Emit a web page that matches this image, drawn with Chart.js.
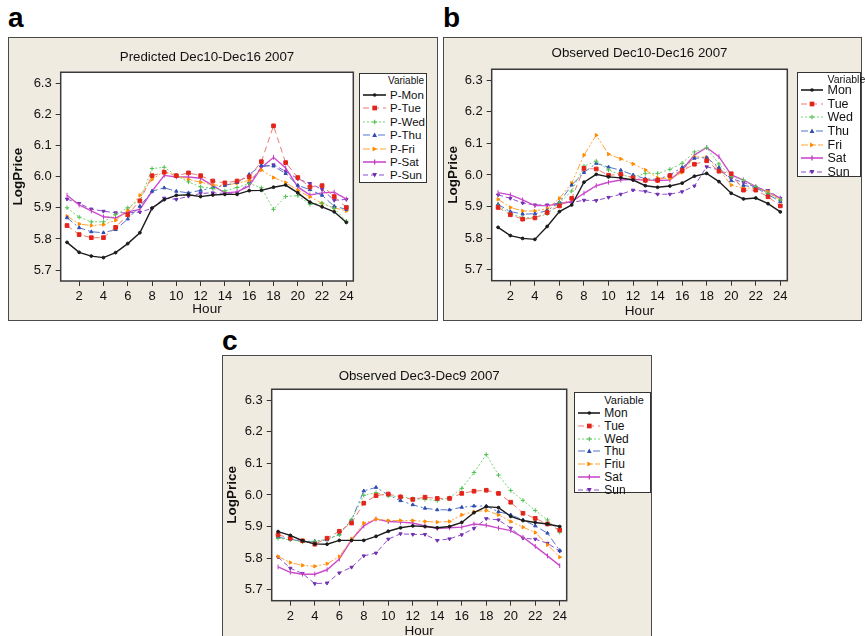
<!DOCTYPE html>
<html><head><meta charset="utf-8">
<script src="https://cdn.jsdelivr.net/npm/chart.js@4.4.1/dist/chart.umd.min.js"></script>
<style>
html,body{margin:0;padding:0;background:#fff;}
body{width:865px;height:636px;overflow:hidden;position:relative;font-family:"Liberation Sans",Arial,sans-serif;}
.panel{position:absolute;background:#efebe1;border:1.5px solid #4a4a4a;box-sizing:border-box;}
.lbl{position:absolute;font-weight:bold;font-size:28px;line-height:28px;color:#000;}
.cv{position:absolute;}
.legend{position:absolute;background:#fff;border:1px solid #333;box-sizing:border-box;}
.legend div{position:absolute;white-space:nowrap;color:#111;}
.legend svg{position:absolute;}
</style></head>
<body>
<div class="lbl" style="left:8px;top:4px;">a</div>
<div class="lbl" style="left:443px;top:4px;">b</div>
<div class="lbl" style="left:222px;top:327px;">c</div>
<div class="panel" style="left:8px;top:37px;width:430px;height:284px;"></div>
<div class="panel" style="left:443px;top:37px;width:419px;height:284px;"></div>
<div class="panel" style="left:222px;top:355px;width:430px;height:292px;"></div>
<canvas id="ca" class="cv" width="430" height="283" style="left:8px;top:37px;"></canvas>
<canvas id="cb" class="cv" width="418" height="283" style="left:443px;top:37px;"></canvas>
<canvas id="cc" class="cv" width="429" height="285" style="left:222px;top:355px;"></canvas>
<script>
// ---------- data ----------
const hours = [1,2,3,4,5,6,7,8,9,10,11,12,13,14,15,16,17,18,19,20,21,22,23,24];
const xTickValues = [2,4,6,8,10,12,14,16,18,20,22,24];
const yTickValues = [5.7,5.8,5.9,6.0,6.1,6.2,6.3];

// Panel a: Predicted Dec10-Dec16 2007
const predMon = [5.789,5.757,5.745,5.740,5.756,5.785,5.820,5.899,5.926,5.940,5.942,5.936,5.941,5.943,5.943,5.955,5.956,5.966,5.973,5.948,5.918,5.903,5.887,5.853];
const predTue = [5.843,5.814,5.804,5.804,5.837,5.878,5.922,6.003,6.014,6.003,6.012,6.003,5.986,5.980,5.986,5.999,6.048,6.163,6.045,5.997,5.967,5.971,5.936,5.901];
const predWed = [5.900,5.870,5.855,5.855,5.878,5.900,5.924,6.026,6.030,6.004,5.983,5.967,5.962,5.954,5.965,5.978,5.964,5.895,5.936,5.939,5.911,5.915,5.898,5.857];
const predThu = [5.868,5.836,5.823,5.820,5.830,5.864,5.905,5.953,5.964,5.953,5.948,5.956,5.964,5.972,5.981,6.007,6.036,6.034,6.010,5.972,5.958,5.940,5.905,5.895];
const predFri = [5.873,5.848,5.843,5.846,5.860,5.892,5.940,5.991,6.017,6.003,5.991,5.982,5.973,5.972,5.979,5.988,6.021,5.997,5.981,5.956,5.935,5.914,5.900,5.890];
const predSat = [5.940,5.909,5.890,5.871,5.867,5.887,5.895,5.953,6.004,5.999,5.999,5.995,5.971,5.948,5.951,5.970,6.029,6.062,6.028,5.967,5.941,5.948,5.950,5.928];
const predSun = [5.928,5.914,5.896,5.889,5.884,5.884,5.886,5.898,5.931,5.927,5.937,5.946,5.948,5.946,5.948,5.978,6.031,6.038,6.017,5.993,5.978,5.959,5.924,5.927];

// Panel b: Observed Dec10-Dec16 2007
const obsAMon = [5.834,5.808,5.799,5.796,5.837,5.884,5.905,5.977,6.002,5.994,5.991,5.984,5.966,5.961,5.965,5.974,5.996,6.005,5.979,5.942,5.924,5.927,5.909,5.883];
const obsATue = [5.897,5.874,5.860,5.864,5.881,5.902,5.926,6.021,6.019,5.999,6.002,5.991,5.983,5.983,5.998,6.014,6.034,6.045,6.012,6.004,5.952,5.952,5.931,5.902];
const obsAWed = [5.903,5.877,5.865,5.864,5.877,5.911,5.949,6.028,6.044,6.016,6.000,5.993,6.005,6.005,6.018,6.037,6.073,6.086,6.035,5.995,5.984,5.963,5.942,5.921];
const obsAThu = [5.907,5.884,5.876,5.877,5.887,5.913,5.968,6.008,6.037,6.025,6.015,6.000,5.988,5.986,6.000,6.024,6.053,6.055,6.024,5.982,5.967,5.960,5.938,5.916];
const obsAFri = [5.923,5.897,5.886,5.886,5.893,5.926,5.974,6.063,6.126,6.066,6.051,6.035,6.016,5.991,5.989,6.008,6.058,6.056,6.018,5.968,5.958,5.958,5.947,5.921];
const obsASat = [5.944,5.937,5.921,5.903,5.903,5.908,5.916,5.942,5.966,5.977,5.984,5.986,5.984,5.982,5.984,6.016,6.063,6.087,6.058,6.000,5.984,5.963,5.945,5.927];
const obsASun = [5.937,5.926,5.911,5.905,5.905,5.911,5.913,5.920,5.919,5.929,5.939,5.952,5.948,5.939,5.939,5.947,5.965,6.026,6.016,5.989,5.976,5.961,5.951,5.926];

// Panel c: Observed Dec3-Dec9 2007
const obsBMon = [5.884,5.872,5.855,5.845,5.844,5.856,5.856,5.856,5.869,5.885,5.896,5.902,5.900,5.896,5.900,5.913,5.944,5.963,5.960,5.932,5.919,5.913,5.908,5.900];
const obsBTue = [5.874,5.863,5.855,5.844,5.863,5.885,5.911,5.974,5.998,6.003,5.994,5.986,5.993,5.989,5.989,6.005,6.012,6.015,6.005,5.977,5.942,5.926,5.908,5.889];
const obsBWed = [5.863,5.858,5.851,5.853,5.860,5.874,5.921,5.999,6.007,5.997,5.995,5.988,5.986,5.982,5.991,6.021,6.071,6.128,6.063,6.014,5.983,5.951,5.921,5.882];
const obsBThu = [5.866,5.860,5.853,5.853,5.858,5.876,5.921,6.013,6.024,6.000,5.982,5.969,5.958,5.953,5.953,5.961,5.965,5.965,5.947,5.937,5.921,5.902,5.879,5.824];
const obsBFri = [5.805,5.786,5.777,5.774,5.782,5.805,5.860,5.911,5.923,5.919,5.919,5.919,5.916,5.914,5.916,5.937,5.947,5.951,5.937,5.916,5.898,5.881,5.842,5.803];
const obsBSat = [5.772,5.755,5.749,5.749,5.763,5.797,5.858,5.902,5.924,5.916,5.914,5.911,5.902,5.894,5.896,5.898,5.908,5.904,5.895,5.887,5.866,5.837,5.807,5.776];
const obsBSun = [5.803,5.768,5.751,5.719,5.721,5.753,5.771,5.807,5.816,5.860,5.877,5.875,5.875,5.856,5.861,5.874,5.894,5.925,5.921,5.895,5.863,5.860,5.847,5.822];

const namesA = ['P-Mon','P-Tue','P-Wed','P-Thu','P-Fri','P-Sat','P-Sun'];
const namesB = ['Mon','Tue','Wed','Thu','Fri','Sat','Sun'];
const namesC = ['Mon','Tue','Wed','Thu','Friu','Sat','Sun'];
const titleA = 'Predicted Dec10-Dec16 2007';
const titleB = 'Observed Dec10-Dec16 2007';
const titleC = 'Observed Dec3-Dec9 2007';

// ---------- styles ----------
const FONT = '"Liberation Sans", Arial, sans-serif';
const styles = [
  {line:'#1c1c1c', point:'#1c1c1c', dash:[],              width:1.4, shape:'circle',   r:1.4, rot:0},
  {line:'#f07a72', point:'#e3241b', dash:[6,4],           width:1.0, shape:'rect',     r:2.6, rot:0},
  {line:'#74d674', point:'#4fbf4f', dash:[2,2],           width:1.0, shape:'cross',    r:2.2, rot:0},
  {line:'#5576cf', point:'#2f4db0', dash:[7,3,2,3],       width:1.0, shape:'triangle', r:1.9, rot:0},
  {line:'#ffa53a', point:'#ff8a00', dash:[7,2,2,2,2,2],   width:1.0, shape:'triangle', r:1.9, rot:90},
  {line:'#cc4ccc', point:'#c03ec0', dash:[],              width:1.4, shape:'line',     r:2.4, rot:90},
  {line:'#8c4fcf', point:'#7030b0', dash:[5,3],           width:1.0, shape:'triangle', r:1.9, rot:180}
];

const framePlugin = {
  id:'frame',
  beforeDraw(chart){
    const {ctx, chartArea:a} = chart;
    ctx.save(); ctx.fillStyle='#ffffff';
    ctx.fillRect(a.left, a.top, a.right-a.left, a.bottom-a.top);
    ctx.restore();
  },
  afterDraw(chart){
    const {ctx, chartArea:a} = chart;
    ctx.save(); ctx.strokeStyle='#3a3a3a'; ctx.lineWidth=1.5;
    ctx.strokeRect(a.left, a.top, a.right-a.left, a.bottom-a.top);
    ctx.restore();
  }
};

function makeChart(id, title, seriesList, names, g){
  const datasets = seriesList.map((vals,i)=>({
    label: names[i],
    data: hours.map((h,j)=>({x:h, y:vals[j]})),
    borderColor: styles[i].line,
    borderWidth: styles[i].width,
    borderDash: styles[i].dash,
    pointStyle: styles[i].shape,
    pointRadius: styles[i].r,
    pointRotation: styles[i].rot,
    pointBackgroundColor: styles[i].point,
    pointBorderColor: styles[i].point,
    pointBorderWidth: 1,
    tension: 0,
    fill: false
  }));
  new Chart(document.getElementById(id), {
    type:'line',
    data:{datasets},
    options:{
      responsive:false, animation:false, devicePixelRatio:1,
      layout:{padding:{left:0, top:0, right:g.right, bottom:0}},
      plugins:{
        legend:{display:false}, tooltip:{enabled:false},
        title:{display:true, text:title, fullSize:false, color:'#111',
               font:{family:FONT, size:13.3, weight:'normal', lineHeight:1.2},
               padding:{top:g.tp, bottom:g.tb}}
      },
      scales:{
        x:{
          type:'linear', min:0.48, max:24.57,
          afterBuildTicks: s => { s.ticks = xTickValues.map(v=>({value:v})); },
          afterFit: s => { s.height = g.xh; },
          ticks:{color:'#111', font:{family:FONT, size:13}, padding:3, maxRotation:0, autoSkip:false,
                 callback: v => String(v)},
          grid:{drawOnChartArea:false, drawTicks:true, tickLength:5, color:'#333'},
          border:{display:false},
          title:{display:true, text:'Hour', color:'#111', font:{family:FONT, size:13.5}, padding:{top:0, bottom:g.hb}}
        },
        y:{
          type:'linear', min:5.665, max:6.335,
          afterBuildTicks: s => { s.ticks = yTickValues.map(v=>({value:v})); },
          afterFit: s => { s.width = g.yw; },
          ticks:{color:'#111', font:{family:FONT, size:13}, padding:4, callback: v => Number(v).toFixed(1)},
          grid:{drawOnChartArea:false, drawTicks:true, tickLength:5, color:'#333'},
          border:{display:false},
          title:{display:true, text:'LogPrice', color:'#111', font:{family:FONT, size:13.5, weight:'bold'}, padding:{top:g.lp, bottom:0}}
        }
      }
    },
    plugins:[framePlugin]
  });
}

function markerSvg(s, cx, cy){
  const c = s.point, r = s.r;
  if (s.shape==='circle') return `<circle cx="${cx}" cy="${cy}" r="${r+0.4}" fill="${c}"/>`;
  if (s.shape==='rect') { const h = r*0.707+0.5; return `<rect x="${cx-h}" y="${cy-h}" width="${2*h}" height="${2*h}" fill="${c}"/>`; }
  if (s.shape==='cross') return `<path d="M${cx-r} ${cy}H${cx+r}M${cx} ${cy-r}V${cy+r}" stroke="${c}" stroke-width="1.1"/>`;
  if (s.shape==='line') return `<path d="M${cx} ${cy-r}V${cy+r}" stroke="${c}" stroke-width="1.3"/>`;
  if (s.shape==='triangle'){
    const q = r + 0.5;
    let pts;
    if (s.rot===0) pts=[[cx,cy-q],[cx+q,cy+q*0.8],[cx-q,cy+q*0.8]];
    else if (s.rot===90) pts=[[cx+q,cy],[cx-q*0.8,cy-q],[cx-q*0.8,cy+q]];
    else pts=[[cx,cy+q],[cx+q,cy-q*0.8],[cx-q,cy-q*0.8]];
    return `<polygon points="${pts.map(p=>p.join(',')).join(' ')}" fill="${c}"/>`;
  }
  return '';
}

function makeLegend(names, L){
  const box = document.createElement('div');
  box.className='legend';
  Object.assign(box.style,{left:L.left+'px', top:L.top+'px', width:L.w+'px', height:L.h+'px'});
  const hdr = document.createElement('div');
  hdr.textContent='Variable';
  Object.assign(hdr.style,{fontSize:L.vfs+'px', lineHeight:'12px', top:(L.vy-6)+'px'});
  if (L.vright!==undefined) hdr.style.right=L.vright+'px'; else hdr.style.left=L.tx+'px';
  box.appendChild(hdr);
  names.forEach((n,i)=>{
    const s = styles[i];
    const cy = L.y0 + i*L.dy;
    const sw = L.sx1 - L.sx0;
    const svg = document.createElementNS('http://www.w3.org/2000/svg','svg');
    svg.setAttribute('width', sw); svg.setAttribute('height', 10);
    svg.style.left = L.sx0+'px'; svg.style.top = (cy-5)+'px';
    svg.innerHTML = `<line x1="0" y1="5" x2="${sw}" y2="5" stroke="${s.line}" stroke-width="${s.width+0.2}" ${s.dash.length?`stroke-dasharray="${s.dash.join(',')}"`:''}/>` + markerSvg(s, sw/2, 5);
    box.appendChild(svg);
    const t = document.createElement('div');
    t.textContent = n;
    Object.assign(t.style,{left:L.tx+'px', top:(cy-7)+'px', fontSize:L.fs+'px', lineHeight:'14px'});
    box.appendChild(t);
  });
  document.body.appendChild(box);
}

makeChart('ca', titleA, [predMon,predTue,predWed,predThu,predFri,predSat,predSun], namesA,
  {right:84.7, tp:12.2, tb:7.1, xh:39, hb:2.8, yw:52.7, lp:2.0});
makeChart('cb', titleB, [obsAMon,obsATue,obsAWed,obsAThu,obsAFri,obsASat,obsASun], namesB,
  {right:73.7, tp:8.7, tb:7.6, xh:39.3, hb:1.0, yw:48.7, lp:2.0});
makeChart('cc', titleC, [obsBMon,obsBTue,obsBWed,obsBThu,obsBFri,obsBSat,obsBSun], namesC,
  {right:84.3, tp:13.2, tb:5.1, xh:39.3, hb:0.5, yw:49.7, lp:2.0});

makeLegend(namesA, {left:359, top:73, w:68, h:110, vy:7, vright:2, vfs:10, y0:21, dy:13.4, sx0:2.7, sx1:26, tx:30, fs:11.5});
makeLegend(namesB, {left:797, top:71.5, w:64, h:105, vy:6, vfs:10.5, tx:29.5, y0:17.5, dy:13.67, sx0:3, sx1:25, fs:12.5});
makeLegend(namesC, {left:574, top:392, w:77, h:101, vy:7, vfs:11, tx:29.3, y0:19.7, dy:12.9, sx0:2.7, sx1:25.3, fs:12});
</script>
</body></html>
